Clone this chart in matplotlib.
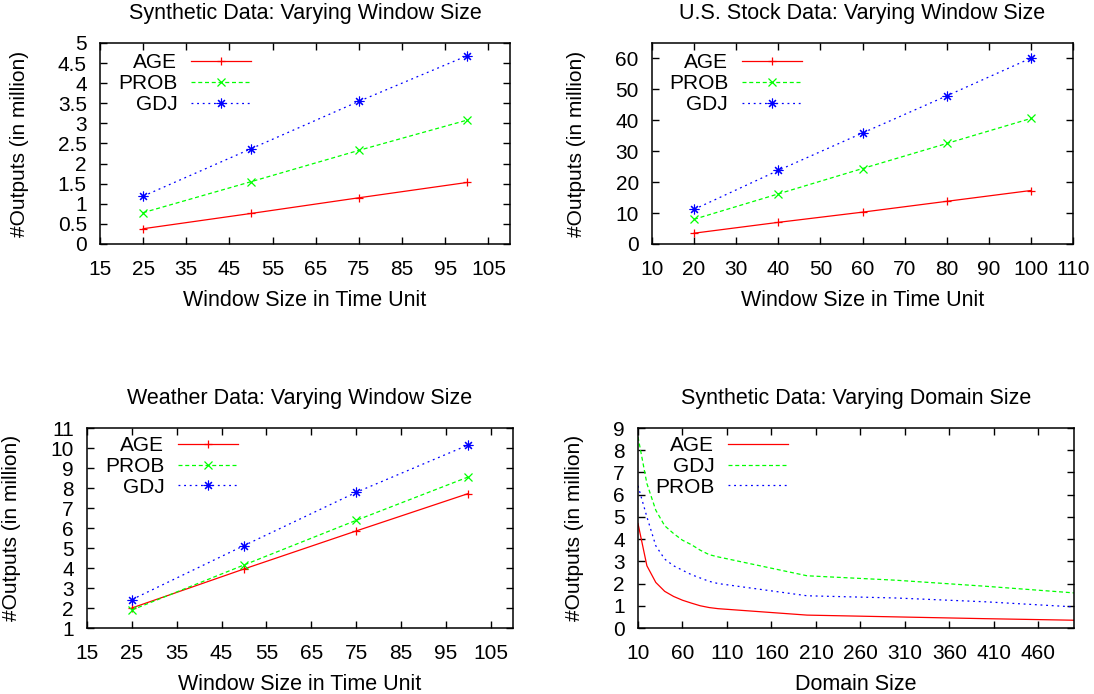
import matplotlib
matplotlib.use("Agg")
import matplotlib.pyplot as plt
from matplotlib.ticker import FuncFormatter
import numpy as np

plt.rcParams['font.family'] = ['Liberation Sans', 'DejaVu Sans']
plt.rcParams['font.size'] = 15

# --- datos ---
win_syn = [25, 50, 75, 100]
syn_age = [0.38, 0.76, 1.15, 1.53]
syn_prob = [0.78, 1.55, 2.33, 3.08]
syn_gdj = [1.19, 2.37, 3.55, 4.68]

win_stock = [20, 40, 60, 80, 100]
stock_age = [3.5, 7.0, 10.3, 13.8, 17.3]
stock_prob = [8.0, 16.2, 24.4, 32.5, 40.6]
stock_gdj = [11.2, 23.8, 35.9, 47.9, 60.1]

win_weather = [25, 50, 75, 100]
weather_age = [2.0, 3.95, 5.85, 7.72]
weather_prob = [1.9, 4.15, 6.38, 8.55]
weather_gdj = [2.42, 5.12, 7.78, 10.15]

domain = [10, 20, 30, 40, 50, 60, 70, 80, 90, 100, 200, 300, 400, 500]
dom_age = [4.7, 2.8, 2.05, 1.65, 1.42, 1.25, 1.12, 1.0, 0.92, 0.87, 0.58, 0.5, 0.42, 0.35]
dom_gdj = [8.6, 6.5, 5.3, 4.6, 4.25, 3.95, 3.75, 3.5, 3.3, 3.2, 2.35, 2.15, 1.88, 1.58]
dom_prob = [6.4, 5.0, 3.7, 3.1, 2.8, 2.6, 2.4, 2.25, 2.1, 2.0, 1.45, 1.35, 1.18, 0.95]

RED = '#ff0000'
GREEN = '#00ff00'
BLUE = '#0000ff'
DASH = (0, (3.2, 2.2))
DOT = (0, (1.5, 3))

W, H = 1094, 694
fig = plt.figure(figsize=(W / 100, H / 100), dpi=100)


def caja(l, t, r, b):
    return fig.add_axes([l / W, 1 - b / H, (r - l) / W, (b - t) / H])


def estilo(ax, titulo, xlabel):
    ax.set_title(titulo, fontsize=15.5, pad=17.5)
    ax.set_xlabel(xlabel, fontsize=15.5, labelpad=8)
    ax.set_ylabel('#Outputs (in million)', fontsize=15, labelpad=21)
    ax.tick_params(direction='in', top=True, right=True, length=5, width=1,
                   labelsize=15)
    ax.tick_params(axis='x', pad=11.5)
    ax.tick_params(axis='y', pad=9.5)
    for s in ax.spines.values():
        s.set_linewidth(1.1)
    ax.yaxis.set_major_formatter(FuncFormatter(lambda v, p: '%g' % v))


def leyenda(ax, x, y):
    ax.legend(loc='upper left', bbox_to_anchor=(x, y), frameon=False,
              markerfirst=False, handlelength=2.85, handletextpad=0.67,
              labelspacing=0.09, borderpad=0, borderaxespad=0,
              fontsize=15, numpoints=1)


mk = dict(markersize=5.5, markeredgewidth=0.9)
mk_ast = dict(markersize=7, markeredgewidth=0.8)
lw = 0.9

# Synthetic window
ax1 = caja(100, 43, 510, 244)
ax1.plot(win_syn, syn_age, color=RED, ls='-', marker='+', lw=lw, label='AGE', **mk)
ax1.plot(win_syn, syn_prob, color=GREEN, ls=DASH, marker='x', lw=lw, label='PROB', **mk)
ax1.plot(win_syn, syn_gdj, color=BLUE, ls=DOT, marker=(8, 2, 0), lw=lw, label='GDJ', **mk_ast)
ax1.set_xlim(15, 110)
ax1.set_ylim(0, 5)
ax1.set_xticks(np.arange(15, 110, 10))
ax1.set_yticks(np.arange(0, 5.01, 0.5))
estilo(ax1, 'Synthetic Data: Varying Window Size', 'Window Size in Time Unit')
leyenda(ax1, 0.044, 0.95)

# Stock
ax2 = caja(652, 43, 1073, 244)
ax2.plot(win_stock, stock_age, color=RED, ls='-', marker='+', lw=lw, label='AGE', **mk)
ax2.plot(win_stock, stock_prob, color=GREEN, ls=DASH, marker='x', lw=lw, label='PROB', **mk)
ax2.plot(win_stock, stock_gdj, color=BLUE, ls=DOT, marker=(8, 2, 0), lw=lw, label='GDJ', **mk_ast)
ax2.set_xlim(10, 110)
ax2.set_ylim(0, 65)
ax2.set_xticks(np.arange(10, 111, 10))
ax2.set_yticks(np.arange(0, 61, 10))
estilo(ax2, 'U.S. Stock Data: Varying Window Size', 'Window Size in Time Unit')
leyenda(ax2, 0.04, 0.95)

# Weather
ax3 = caja(87, 428, 513, 628)
ax3.plot(win_weather, weather_age, color=RED, ls='-', marker='+', lw=lw, label='AGE', **mk)
ax3.plot(win_weather, weather_prob, color=GREEN, ls=DASH, marker='x', lw=lw, label='PROB', **mk)
ax3.plot(win_weather, weather_gdj, color=BLUE, ls=DOT, marker=(8, 2, 0), lw=lw, label='GDJ', **mk_ast)
ax3.set_xlim(15, 110)
ax3.set_ylim(1, 11)
ax3.set_xticks(np.arange(15, 110, 10))
ax3.set_yticks(np.arange(1, 12, 1))
estilo(ax3, 'Weather Data: Varying Window Size', 'Window Size in Time Unit')
leyenda(ax3, 0.042, 0.96)

# Domain
ax4 = caja(638, 428, 1074, 628)
ax4.plot(domain, dom_age, color=RED, ls='-', lw=lw, label='AGE')
ax4.plot(domain, dom_gdj, color=GREEN, ls=DASH, lw=lw, label='GDJ')
ax4.plot(domain, dom_prob, color=BLUE, ls=DOT, lw=lw, label='PROB')
ax4.set_xlim(10, 500)
ax4.set_ylim(0, 9)
ax4.set_xticks(np.arange(10, 461, 50))
ax4.set_yticks(np.arange(0, 10, 1))
estilo(ax4, 'Synthetic Data: Varying Domain Size', 'Domain Size')
leyenda(ax4, 0.039, 0.96)

fig.savefig('out.png', dpi=100)
